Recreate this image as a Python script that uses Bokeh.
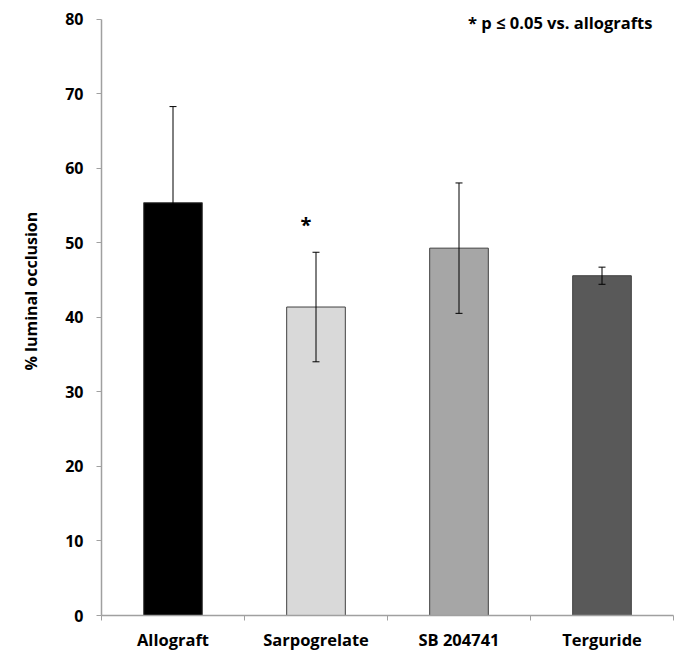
import numpy as np
from bokeh.plotting import figure
from bokeh.models import ColumnDataSource, FixedTicker, Range1d, Whisker, TeeHead, Label, Title
from bokeh.embed import file_html
from bokeh.resources import INLINE

categories = ["Allograft", "Sarpogrelate", "SB 204741", "Terguride"]
means = [55.4, 41.4, 49.3, 45.6]
errors = [12.9, 7.35, 8.75, 1.15]
colors = ["#000000", "#d9d9d9", "#a6a6a6", "#595959"]
y_ticks = [0, 10, 20, 30, 40, 50, 60, 70, 80]
note_text = "* p \u2264 0.05 vs. allografts"
sig_marker = "*"
y_title = "% luminal occlusion"

FONT = "Open Sans"

xpos = np.arange(len(categories)) + 0.5
src = ColumnDataSource(dict(
    x=xpos, top=means, color=colors,
    upper=np.array(means) + np.array(errors),
    lower=np.array(means) - np.array(errors),
))

p = figure(width=680, height=653, output_backend="svg", toolbar_location=None,
           x_range=Range1d(0, len(categories)), y_range=Range1d(0, 82.0),
           min_border_left=100, min_border_right=7, min_border_top=4, min_border_bottom=35)
p.outline_line_color = None
p.xgrid.grid_line_color = None
p.ygrid.grid_line_color = None
p.background_fill_color = "white"

p.vbar(x="x", top="top", width=0.41, bottom=0, fill_color="color",
       line_color="#404040", line_width=1, source=src)

w = Whisker(base="x", upper="upper", lower="lower", source=src, level="overlay",
            line_color="black", line_width=1,
            upper_head=TeeHead(size=7, line_color="black", line_width=1),
            lower_head=TeeHead(size=7, line_color="black", line_width=1))
p.add_layout(w)

# x axis
p.xaxis.ticker = FixedTicker(ticks=list(xpos), minor_ticks=list(range(len(categories) + 1)))
p.xaxis.major_label_overrides = {float(x): c for x, c in zip(xpos, categories)}
p.xaxis.major_tick_out = 0
p.xaxis.major_tick_in = 0
p.xaxis.minor_tick_out = 5
p.xaxis.minor_tick_in = 0
p.xaxis.minor_tick_line_color = "#a0a0a0"
p.xaxis.axis_line_color = "#a0a0a0"
p.xaxis.axis_line_width = 1.5
p.xaxis.major_label_standoff = 7
p.xaxis.major_label_text_font = FONT
p.xaxis.major_label_text_font_style = "bold"
p.xaxis.major_label_text_font_size = "16.5px"
p.xaxis.major_label_text_color = "black"

# y axis
p.yaxis.ticker = FixedTicker(ticks=y_ticks, minor_ticks=[])
p.yaxis.bounds = (0, 80)
p.yaxis.major_tick_out = 5
p.yaxis.major_tick_in = 0
p.yaxis.major_tick_line_color = "#a0a0a0"
p.yaxis.axis_line_color = "#a0a0a0"
p.yaxis.axis_line_width = 1.5
p.yaxis.major_label_standoff = 13
p.yaxis.major_label_text_font = FONT
p.yaxis.major_label_text_font_style = "bold"
p.yaxis.major_label_text_font_size = "16px"
p.yaxis.major_label_text_color = "black"

ytitle = Title(text=y_title, align="left", vertical_align="top", offset=245, standoff=38,
               text_font=FONT, text_font_style="bold", text_font_size="16px",
               text_color="black")
p.add_layout(ytitle, "left")

note = Label(x=3.853, y=79.6, text=note_text, text_align="right", text_baseline="middle",
             text_font=FONT, text_font_style="bold", text_font_size="16.5px", text_color="black")
p.add_layout(note)

star = Label(x=xpos[1], y=means[1] + errors[1] + 3.7, x_offset=-10, text=sig_marker,
             text_align="center", text_baseline="alphabetic",
             text_font=FONT, text_font_style="bold", text_font_size="20px", text_color="black")
p.add_layout(star)

open("out.html", "w").write(file_html(p, INLINE))
